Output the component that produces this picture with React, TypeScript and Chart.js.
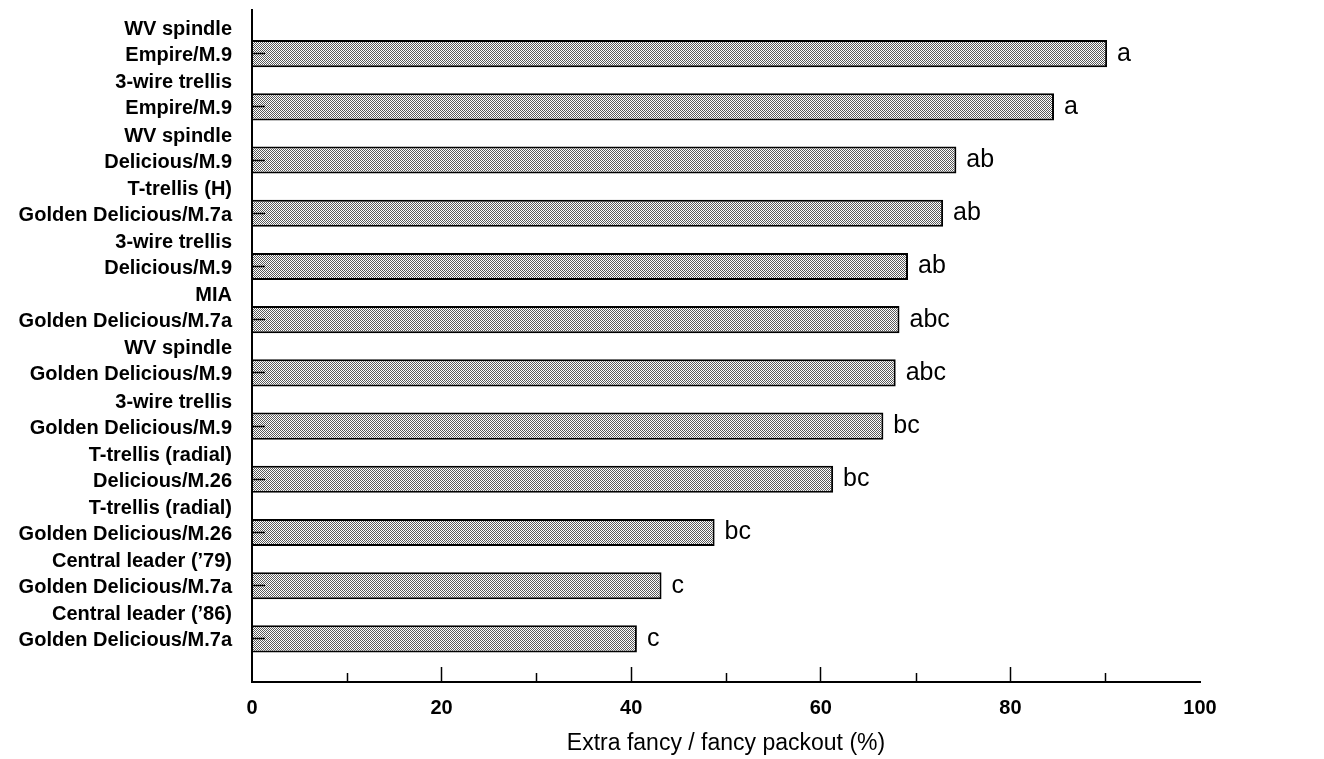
import React, { useEffect, useRef } from 'react';
import { Chart, registerables } from 'chart.js';

Chart.register(...registerables);

const categories: string[][] = [
  ['WV spindle', 'Empire/M.9'],
  ['3-wire trellis', 'Empire/M.9'],
  ['WV spindle', 'Delicious/M.9'],
  ['T-trellis (H)', 'Golden Delicious/M.7a'],
  ['3-wire trellis', 'Delicious/M.9'],
  ['MIA', 'Golden Delicious/M.7a'],
  ['WV spindle', 'Golden Delicious/M.9'],
  ['3-wire trellis', 'Golden Delicious/M.9'],
  ['T-trellis (radial)', 'Delicious/M.26'],
  ['T-trellis (radial)', 'Golden Delicious/M.26'],
  ['Central leader (\u201979)', 'Golden Delicious/M.7a'],
  ['Central leader (\u201986)', 'Golden Delicious/M.7a'],
];
const packout: number[] = [90.2, 84.6, 74.3, 72.9, 69.2, 68.3, 67.9, 66.6, 61.3, 48.8, 43.2, 40.6];
const letters: string[] = ['a', 'a', 'ab', 'ab', 'ab', 'abc', 'abc', 'bc', 'bc', 'bc', 'c', 'c'];
const majorTicks: number[] = [0, 20, 40, 60, 80, 100];
const minorTicks: number[] = [10, 30, 50, 70, 90];
const xTitle = 'Extra fancy / fancy packout (%)';

const FONT = "'Liberation Sans', Arial, Helvetica, sans-serif";

function makePattern(): CanvasPattern | string {
  const c = document.createElement('canvas');
  c.width = 4;
  c.height = 4;
  const g = c.getContext('2d');
  if (!g) return '#b0b0b0';
  g.fillStyle = '#ffffff';
  g.fillRect(0, 0, 4, 4);
  g.fillStyle = '#5a5a5a';
  g.fillRect(0, 0, 1, 1);
  g.fillRect(2, 0, 1, 1);
  g.fillRect(1, 1, 1, 1);
  g.fillRect(3, 1, 1, 1);
  g.fillRect(0, 2, 1, 1);
  g.fillRect(2, 2, 1, 1);
  g.fillRect(1, 3, 1, 1);
  g.fillRect(3, 3, 1, 1);
  const p = g.createPattern(c, 'repeat');
  return p || '#b0b0b0';
}

const lettersPlugin = {
  id: 'lettersPlugin',
  afterDatasetsDraw(chart: any) {
    const ctx = chart.ctx;
    const meta = chart.getDatasetMeta(0);
    ctx.save();
    ctx.fillStyle = '#000';
    ctx.font = `25px ${FONT}`;
    ctx.textAlign = 'left';
    ctx.textBaseline = 'alphabetic';
    meta.data.forEach((bar: any, i: number) => {
      ctx.fillText(letters[i], bar.x + 10, bar.y + 7);
    });
    ctx.restore();
  },
};

const minorTickPlugin = {
  id: 'minorTickPlugin',
  afterDraw(chart: any) {
    const xs = chart.scales.x;
    const ctx = chart.ctx;
    ctx.save();
    ctx.strokeStyle = '#000';
    ctx.lineWidth = 1.5;
    minorTicks.forEach((v) => {
      const px = Math.round(xs.getPixelForValue(v)) + 0.5;
      ctx.beginPath();
      ctx.moveTo(px, xs.top);
      ctx.lineTo(px, xs.top - 9);
      ctx.stroke();
    });
    ctx.restore();
  },
};

export default function App() {
  const ref = useRef<HTMLCanvasElement>(null);

  useEffect(() => {
    if (!ref.current) return;
    const pattern = makePattern();
    const chart = new Chart(ref.current, {
      type: 'bar',
      data: {
        datasets: [
          {
            data: packout.map((v, i) => ({ x: v, y: i })),
            backgroundColor: pattern as any,
            borderColor: '#000',
            borderWidth: 2,
            categoryPercentage: 1,
            barPercentage: 0.51,
          },
        ],
      },
      options: {
        indexAxis: 'y',
        animation: false,
        responsive: false,
        layout: { padding: { left: 0, right: 124, top: 10, bottom: 0 } },
        plugins: {
          legend: { display: false },
          tooltip: { enabled: false },
        },
        scales: {
          x: {
            type: 'linear',
            position: 'bottom',
            min: 0,
            max: 100,
            offset: false,
            afterBuildTicks: (scale: any) => {
              scale.ticks = majorTicks.map((v) => ({ value: v }));
            },
            afterFit: (scale: any) => {
              scale.height = 77;
              scale.paddingLeft = 0;
              scale.paddingRight = 0;
            },
            border: { display: true, color: '#000', width: 2 },
            grid: {
              offset: false,
              drawOnChartArea: false,
              drawTicks: true,
              tickLength: -15,
              tickWidth: 1.5,
              tickColor: (c: any) => (c.tick && (c.tick.value === 0 || c.tick.value === 100) ? 'rgba(0,0,0,0)' : '#000'),
            },
            ticks: {
              color: '#000',
              padding: 29,
              autoSkip: false,
              font: { family: FONT, size: 20, weight: 'bold' },
              maxRotation: 0,
            },
            title: {
              display: true,
              text: xTitle,
              color: '#000',
              font: { family: FONT, size: 23 },
              padding: { top: 0, bottom: 2 },
            },
          },
          y: {
            type: 'linear',
            position: 'left',
            reverse: true,
            offset: false,
            min: -0.82,
            max: 11.81,
            z: 1,
            afterBuildTicks: (scale: any) => {
              scale.ticks = categories.map((_, i) => ({ value: i }));
            },
            afterFit: (scale: any) => {
              scale.width = 252;
              scale.paddingTop = 0;
              scale.paddingBottom = 0;
            },
            border: { display: true, color: '#000', width: 2, z: 1 },
            grid: {
              z: 1,
              offset: false,
              drawOnChartArea: false,
              drawTicks: true,
              tickLength: -13,
              tickWidth: 1.5,
              tickColor: '#000',
            },
            ticks: {
              color: '#000',
              padding: 33,
              autoSkip: false,
              labelOffset: -11,
              font: { family: FONT, size: 20, weight: 'bold', lineHeight: 1.3 },
              callback: (value: any) => {
                const i = Math.round(Number(value));
                return categories[i] || '';
              },
            },
          },
        },
      } as any,
      plugins: [lettersPlugin, minorTickPlugin],
    });
    return () => chart.destroy();
  }, []);

  return (
    <div style={{ position: 'fixed', left: 0, top: 0, width: 1324, height: 759, background: '#fff' }}>
      <canvas ref={ref} width={1324} height={759} style={{ display: 'block' }} />
    </div>
  );
}
